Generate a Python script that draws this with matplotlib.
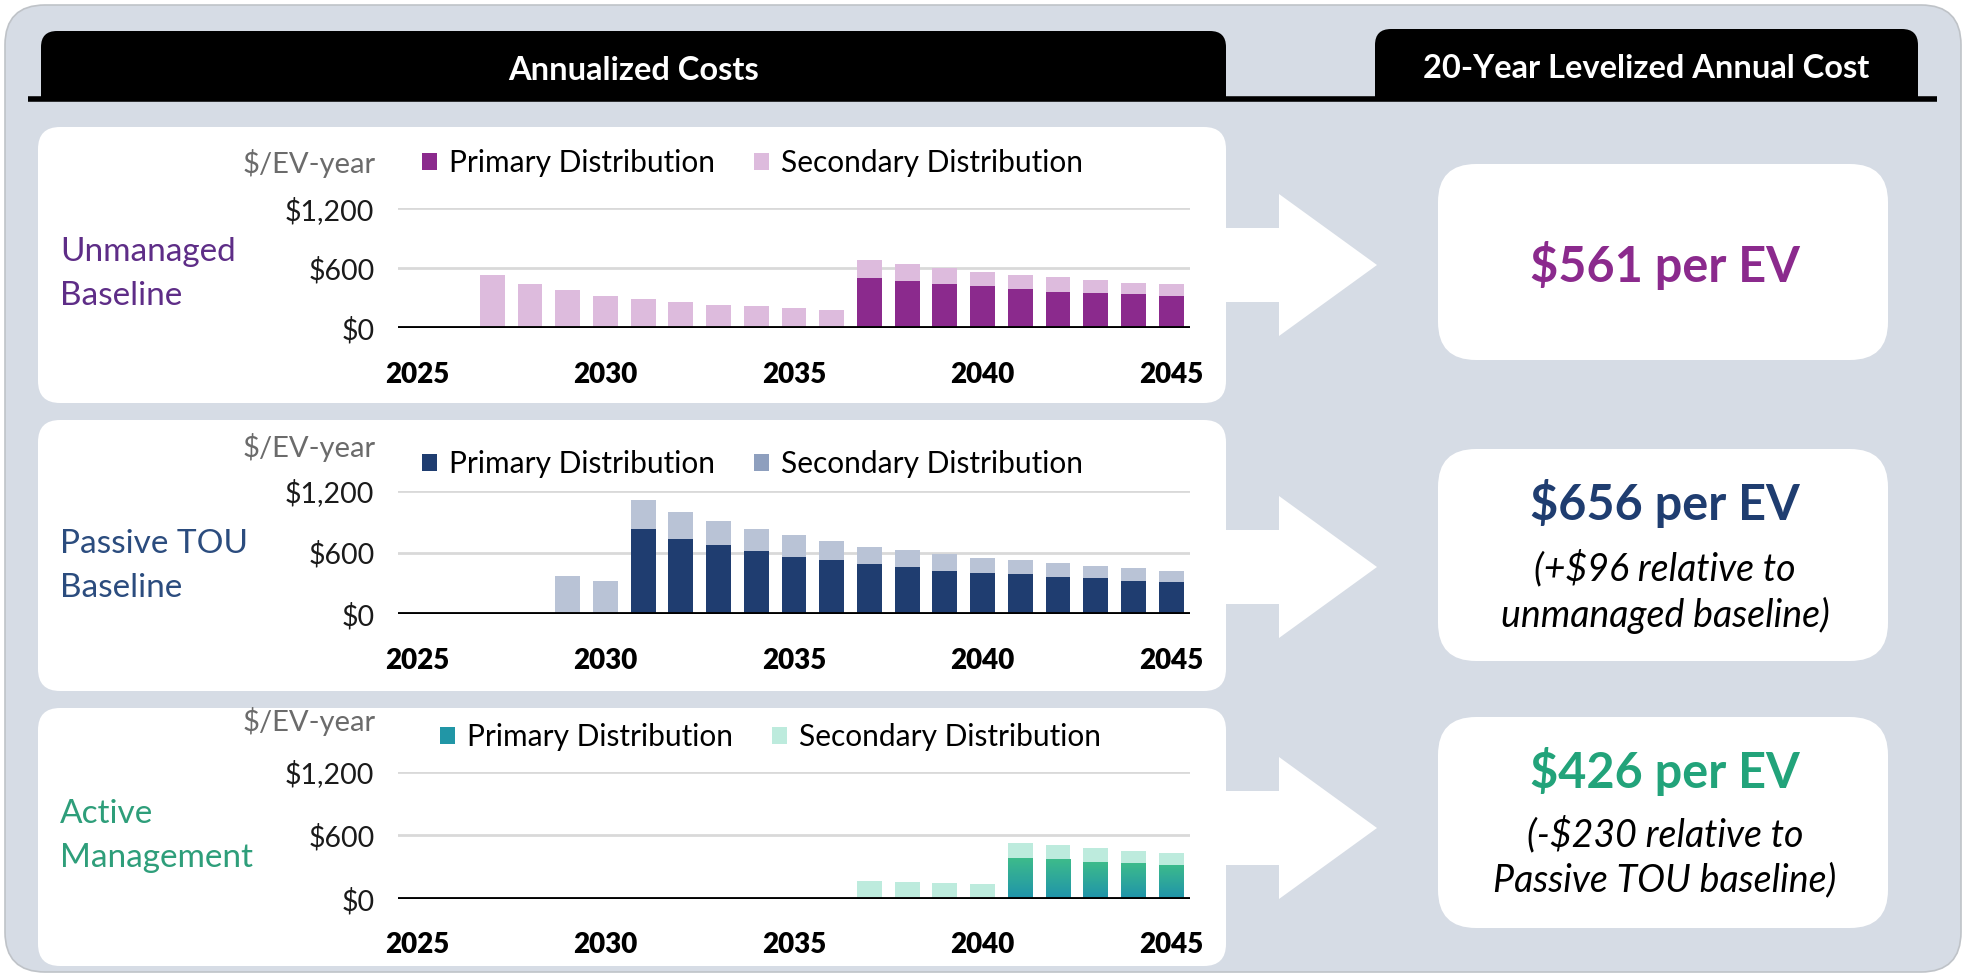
import matplotlib
matplotlib.use("Agg")
import matplotlib.pyplot as plt
import numpy as np
from matplotlib.patches import FancyBboxPatch, Rectangle, Polygon, Patch
from matplotlib.colors import LinearSegmentedColormap

plt.rcParams['font.family'] = ['Lato', 'DejaVu Sans']

# ---------------- data ----------------
years = list(range(2025, 2046))
xtick_years = [2025, 2030, 2035, 2040, 2045]
ytick_vals = [0, 600, 1200]
ytick_labels = ["$0", "$600", "$1,200"]

unmanaged_primary = [0, 0, 0, 0, 0, 0, 0, 0, 0, 0, 0, 0,
                     499, 472, 445, 421, 394, 364, 354, 340, 327]
unmanaged_secondary = [0, 0, 533, 445, 381, 327, 293, 263, 236, 222, 199, 185,
                       182, 168, 158, 142, 142, 148, 131, 115, 118]

passive_primary = [0, 0, 0, 0, 0, 0, 826, 735, 671, 613, 558, 526,
                   487, 461, 423, 397, 387, 361, 348, 323, 310]
passive_secondary = [0, 0, 0, 0, 371, 323, 287, 259, 239, 219, 210, 184,
                     171, 162, 161, 151, 136, 133, 123, 122, 113]

active_primary = [0, 0, 0, 0, 0, 0, 0, 0, 0, 0, 0, 0,
                  0, 0, 0, 0, 385, 373, 347, 335, 322]
active_secondary = [0, 0, 0, 0, 0, 0, 0, 0, 0, 0, 0, 0,
                    174, 161, 148, 139, 142, 132, 133, 120, 107]

scenario_names = ["Unmanaged\nBaseline", "Passive TOU\nBaseline", "Active\nManagement"]
levelized_main = ["$561 per EV", "$656 per EV", "$426 per EV"]
levelized_sub = ["", "(+$96 relative to\nunmanaged baseline)", "(-$230 relative to\nPassive TOU baseline)"]
series_labels = ["Primary Distribution", "Secondary Distribution"]
header_left = "Annualized Costs"
header_right = "20-Year Levelized Annual Cost"
unit_label = "$/EV-year"

# ---------------- figure ----------------
W, H = 1966, 977
fig = plt.figure(figsize=(W / 100, H / 100), dpi=100)
fig.patch.set_facecolor("white")

bg = fig.add_axes([0, 0, 1, 1], zorder=-5)
bg.set_xlim(0, W)
bg.set_ylim(H, 0)
bg.axis("off")

BGC = "#D6DCE5"
bg.add_patch(FancyBboxPatch((5, 5), W - 10, H - 10,
                            boxstyle="round,pad=0,rounding_size=40",
                            fc=BGC, ec="#BFC3C8", lw=1.2))


def top_rounded(x0, y0, x1, y1, r, color):
    bg.add_patch(FancyBboxPatch((x0, y0), x1 - x0, y1 - y0,
                                boxstyle=f"round,pad=0,rounding_size={r}",
                                fc=color, ec="none"))
    bg.add_patch(Rectangle((x0, (y0 + y1) / 2), x1 - x0, (y1 - y0) / 2,
                           fc=color, ec="none"))


top_rounded(41, 31, 1226, 100, 16, "black")
top_rounded(1375, 29, 1918, 100, 16, "black")
bg.plot([28, 1937], [99, 99], color="black", lw=4, solid_capstyle="butt")
bg.text((41 + 1226) / 2, 71, header_left, color="white", fontsize=23.5,
        fontweight="bold", ha="center", va="center")
bg.text((1375 + 1918) / 2, 69, header_right, color="white", fontsize=23.5,
        fontweight="bold", ha="center", va="center")

panels_y = [(127, 403), (420, 691), (708, 966)]
for (y0, y1) in panels_y:
    bg.add_patch(FancyBboxPatch((38, y0), 1226 - 38, y1 - y0,
                                boxstyle="round,pad=0,rounding_size=22",
                                fc="white", ec="none"))

boxes_y = [(164, 360), (449, 661), (717, 928)]
for (y0, y1) in boxes_y:
    bg.add_patch(FancyBboxPatch((1438, y0), 1888 - 1438, y1 - y0,
                                boxstyle="round,pad=0,rounding_size=38",
                                fc="white", ec="none"))

arrow_cy = [265, 567, 828]
for cy in arrow_cy:
    pts = [(1226, cy - 37), (1279, cy - 37), (1279, cy - 71), (1377, cy),
           (1279, cy + 71), (1279, cy + 37), (1226, cy + 37)]
    bg.add_patch(Polygon(pts, closed=True, fc="white", ec="none"))

main_colors = ["#8B2A8D", "#1F3D70", "#22A37A"]
scen_colors = ["#5E2D87", "#2B4C7E", "#2E9E7A"]

main_y = [265, 504, 771]
sub_y = [None, 592, 857]
for i in range(3):
    bg.text(1665, main_y[i], levelized_main[i], color=main_colors[i], fontsize=35,
            fontweight="bold", ha="center", va="center")
    if levelized_sub[i]:
        bg.text(1665, sub_y[i], levelized_sub[i], color="black", fontsize=27,
                style="italic", ha="center", va="center", linespacing=1.33)

scen_cy = [274, 566, 836]
for i, cy in enumerate(scen_cy):
    bg.text(60, cy, scenario_names[i], color=scen_colors[i], fontsize=24,
            ha="left", va="center", linespacing=1.55)

# ---------------- charts ----------------
chart_specs = [
    dict(zero=328.3, top=208.3, prim=unmanaged_primary, sec=unmanaged_secondary,
         pc="#8B2A8D", sc="#DDBBDD", lsc="#DDBBDD", unit_y=163, leg_x=422, leg_y=163,
         grad=False),
    dict(zero=614.3, top=490.7, prim=passive_primary, sec=passive_secondary,
         pc="#1F3D70", sc="#B9C3D6", lsc="#8E9FBE", unit_y=448, leg_x=422, leg_y=464,
         grad=False),
    dict(zero=899.0, top=771.7, prim=active_primary, sec=active_secondary,
         pc="#2196A6", sc="#BDEBDD", lsc="#BDEBDD", unit_y=722, leg_x=440, leg_y=737,
         grad=True),
]

X0, X1 = 398, 1190
grad_cmap = LinearSegmentedColormap.from_list("tg", ["#1F93AB", "#3DBB8B"])

for spec in chart_specs:
    ax = fig.add_axes([X0 / W, 1 - spec["zero"] / H, (X1 - X0) / W,
                       (spec["zero"] - spec["top"]) / H])
    ax.patch.set_alpha(0)
    prim = np.array(spec["prim"], dtype=float)
    sec = np.array(spec["sec"], dtype=float)
    for yv in [600, 1200]:
        ax.axhline(yv, color="#D9D9D9", lw=2, zorder=0)
    bw = 0.66
    bars = ax.bar(years, prim, width=bw, color=spec["pc"], zorder=2, lw=0)
    ax.bar(years, sec, bottom=prim, width=bw, color=spec["sc"], zorder=2, lw=0)
    if spec["grad"]:
        grad = np.linspace(0, 1, 256).reshape(-1, 1)
        for b in bars:
            h = b.get_height()
            if h <= 0:
                continue
            x = b.get_x()
            im = ax.imshow(grad, extent=[x, x + bw, 0, h], origin="lower",
                           aspect="auto", cmap=grad_cmap, zorder=3)
            im.set_clip_path(b)
    ax.axhline(0, color="black", lw=3.5, zorder=4)
    ax.set_xlim(2024.5, 2045.5)
    ax.set_ylim(0, 1200)
    for s in ax.spines.values():
        s.set_visible(False)
    ax.set_yticks(ytick_vals)
    ax.set_yticklabels(ytick_labels, fontsize=20.5, color="#1a1a1a")
    ax.set_xticks(xtick_years)
    ax.set_xticklabels([str(y) for y in xtick_years], fontsize=20,
                       fontweight="heavy", color="black")
    ax.tick_params(axis="y", length=0, pad=17)
    ax.tick_params(axis="x", length=0, pad=24)

    fig.text(376 / W, 1 - spec["unit_y"] / H, unit_label, color="#6B6B6B",
             fontsize=21, ha="right", va="center")
    handles = [Patch(fc=spec["pc"], ec="none"), Patch(fc=spec["lsc"], ec="none")]
    ax.legend(handles, series_labels, ncol=2, loc="center left",
              bbox_to_anchor=(spec["leg_x"] / W, 1 - spec["leg_y"] / H),
              bbox_transform=fig.transFigure, frameon=False, fontsize=21.5,
              handlelength=0.5, handleheight=0.5, handletextpad=0.4,
              columnspacing=1.3, borderpad=0, borderaxespad=0)

fig.savefig("out.png", dpi=100)
